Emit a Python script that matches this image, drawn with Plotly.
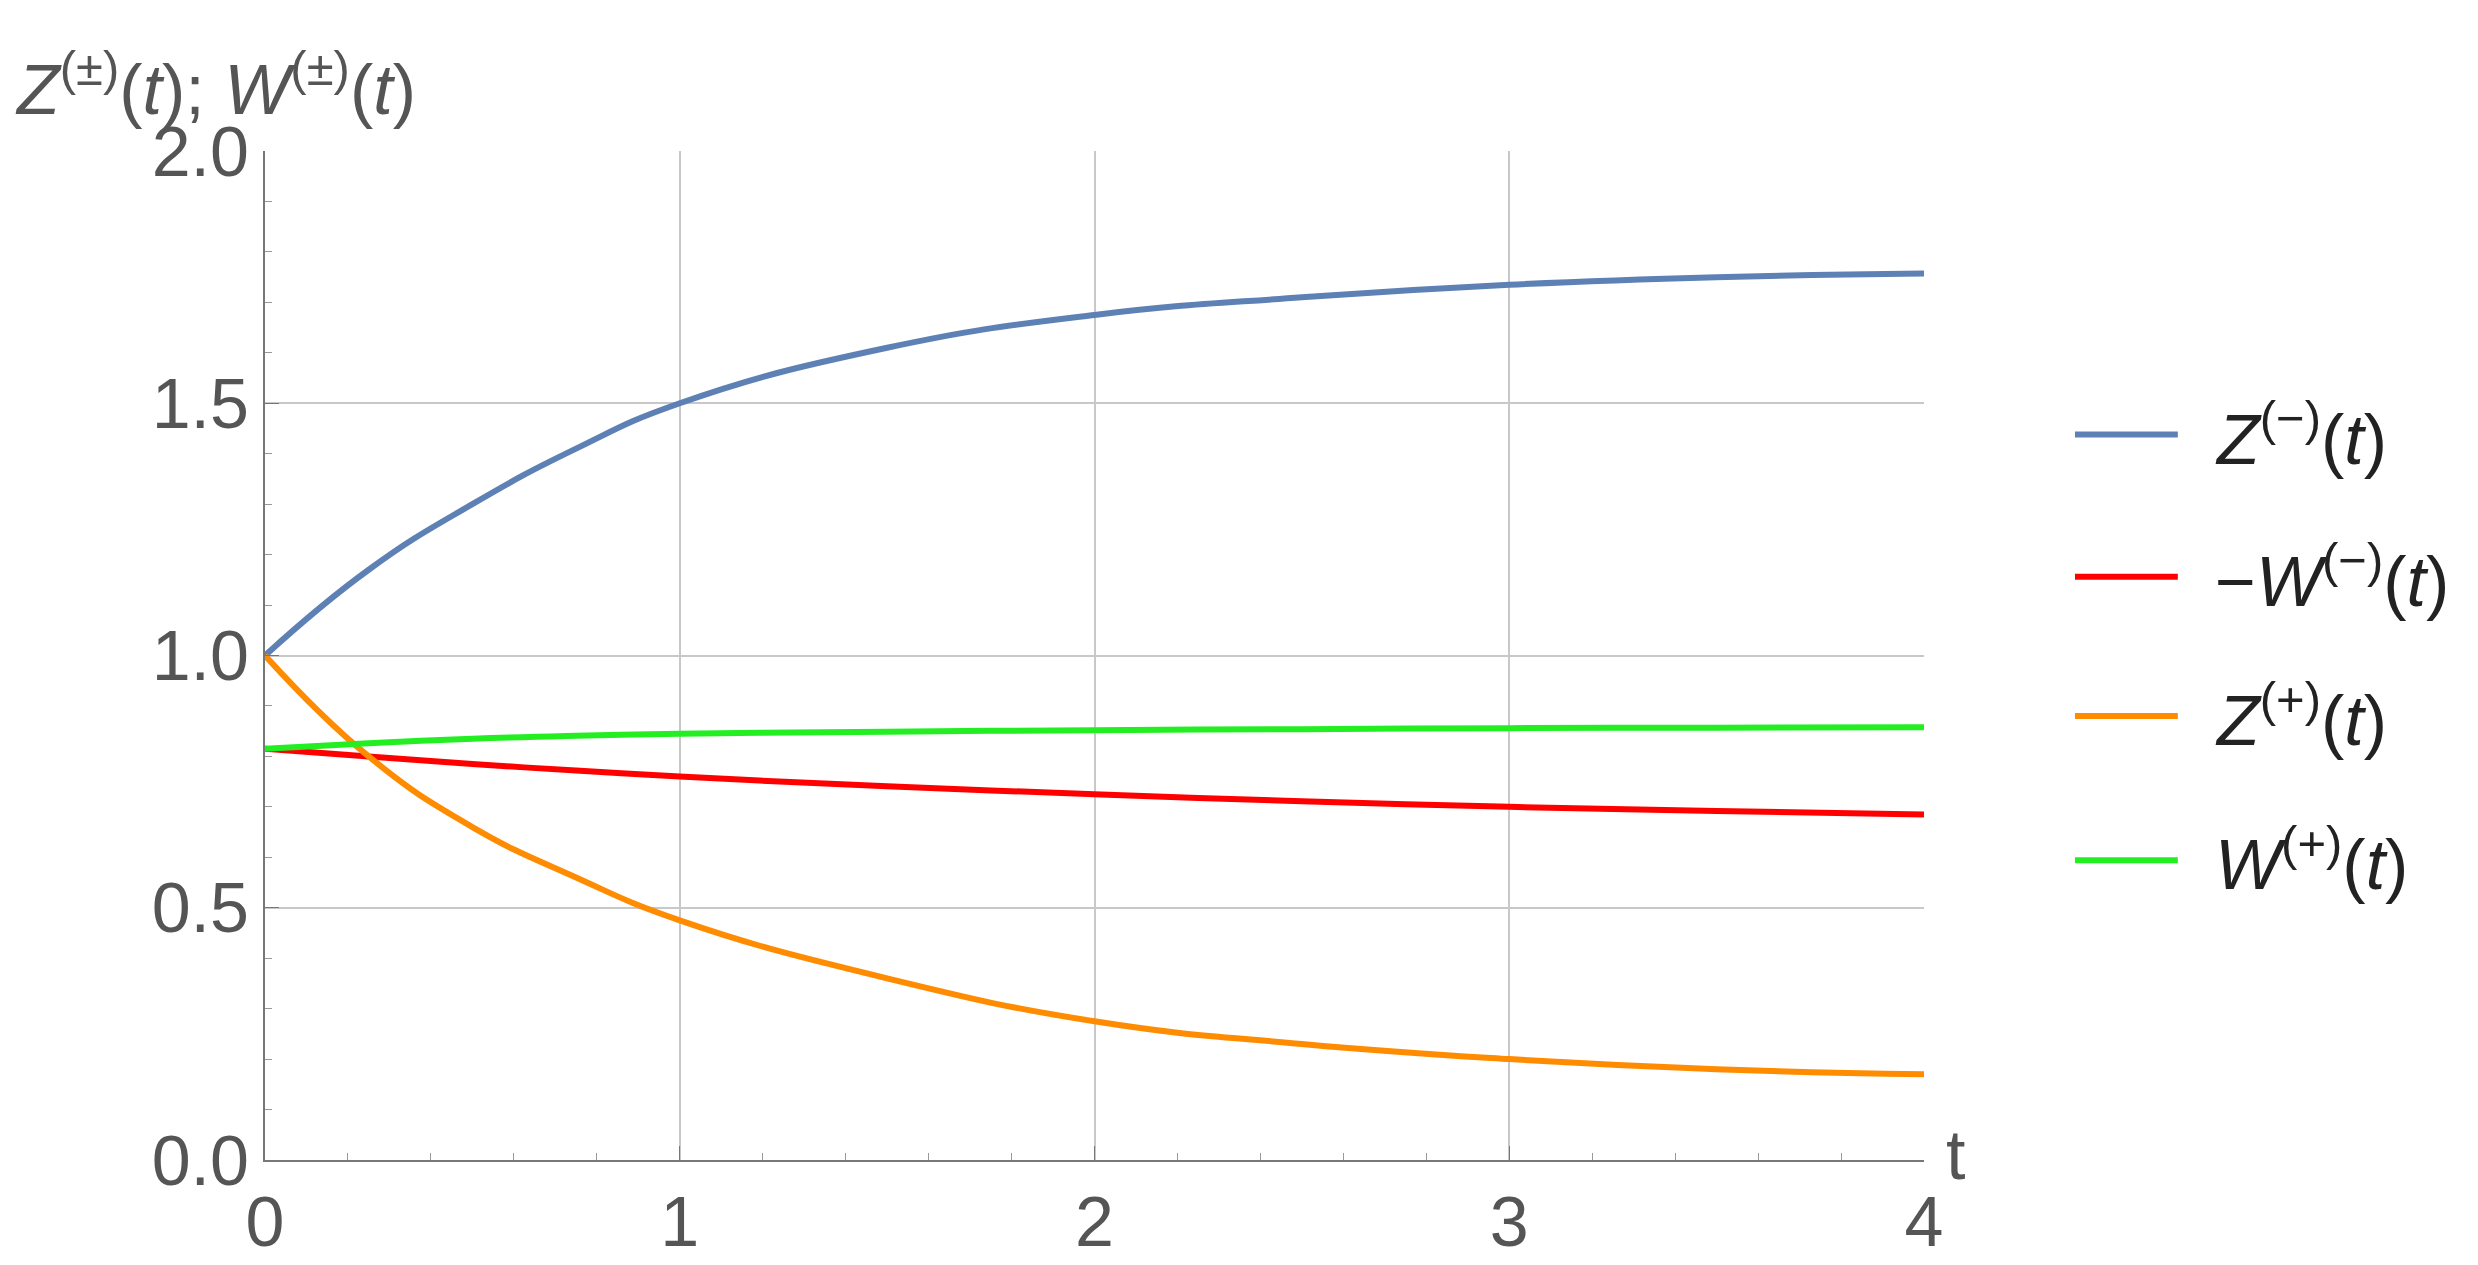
import plotly.graph_objects as go

t = [0, 0.25, 0.5, 0.75, 1, 1.5, 2, 2.5, 3, 3.5, 4]
z_minus = [1.0, 1.17, 1.30, 1.41, 1.50, 1.61, 1.675, 1.71, 1.735, 1.75, 1.757]
neg_w_minus = [0.815, 0.80, 0.785, 0.772, 0.76, 0.741, 0.725, 0.711, 0.70, 0.692, 0.685]
z_plus = [1.0, 0.80, 0.66, 0.56, 0.475, 0.36, 0.275, 0.23, 0.20, 0.18, 0.17]
w_plus = [0.815, 0.826, 0.835, 0.841, 0.845, 0.849, 0.852, 0.854, 0.856, 0.857, 0.858]

series = [
    ("<i>Z</i><sup>(−)</sup>(<i>t</i>)", z_minus, "#5E81B5"),
    ("−<i>W</i><sup>(−)</sup>(<i>t</i>)", neg_w_minus, "#FF0000"),
    ("<i>Z</i><sup>(+)</sup>(<i>t</i>)", z_plus, "#FF8C00"),
    ("<i>W</i><sup>(+)</sup>(<i>t</i>)", w_plus, "#22EE22"),
]

fig = go.Figure()
shapes, annos = [], []
ly = [0.719, 0.578, 0.440, 0.297]
for (name, y, c), yy in zip(series, ly):
    fig.add_trace(go.Scatter(x=t, y=y, mode="lines", name=name,
                             line=dict(color=c, width=6, shape="spline", smoothing=1.3),
                             showlegend=False))
    shapes.append(dict(type="line", xref="paper", yref="paper", x0=1.091, x1=1.153,
                       y0=yy, y1=yy, line=dict(color=c, width=6)))
    annos.append(dict(xref="paper", yref="paper", x=1.174, y=yy, text=name, showarrow=False,
                      xanchor="left", yanchor="middle", font=dict(size=70, color="#222")))

annos.append(dict(xref="paper", yref="paper", x=-0.152, y=1.02, xanchor="left", yanchor="bottom",
                  text="<i>Z</i><sup>(±)</sup>(<i>t</i>); <i>W</i><sup>(±)</sup>(<i>t</i>)",
                  showarrow=False, font=dict(size=70, color="#555")))
annos.append(dict(xref="paper", yref="paper", x=1.012, y=0.005, xanchor="left", yanchor="middle",
                  text="t", showarrow=False, font=dict(size=70, color="#555")))

axis_common = dict(showgrid=True, gridcolor="#C8C8C8", gridwidth=2, zeroline=False,
                   showline=True, linecolor="#777", linewidth=2, ticks="inside", ticklen=14,
                   tickcolor="#777", tickfont=dict(size=70, color="#555"),
                   minor=dict(ticks="inside", ticklen=7, tickcolor="#999", nticks=5))
fig.update_xaxes(range=[0, 4], dtick=1, **axis_common)
fig.update_yaxes(range=[0, 2.0], dtick=0.5, tickformat=".1f", **axis_common)
fig.update_layout(width=2478, height=1265, plot_bgcolor="white", paper_bgcolor="white",
                  margin=dict(l=257, r=562, t=143, b=96), shapes=shapes, annotations=annos,
                  font=dict(family="Liberation Sans"))
fig.write_html("out.html")
